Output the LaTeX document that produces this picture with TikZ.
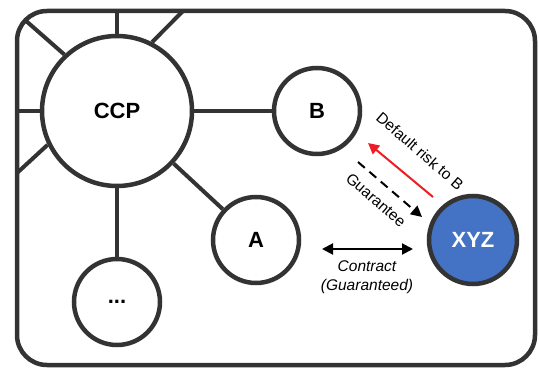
\documentclass[tikz,border=0pt]{standalone}
\usepackage{fontspec}
\setmainfont{Liberation Sans}
\usetikzlibrary{arrows.meta}
\definecolor{linegray}{HTML}{333333}
\definecolor{xyzblue}{HTML}{4472C4}
\definecolor{riskred}{HTML}{EE1C25}

\begin{document}
\begin{tikzpicture}[x=1pt, y=-1pt,
        party/.style = {circle, draw=linegray, line width=4.5pt, minimum size=86pt,
            inner sep=0pt, font=\fontsize{22}{26}\selectfont\bfseries},
        spoke/.style = {draw=linegray, line width=4pt},
        flow/.style = {line width=2pt, -{Triangle[length=11pt, width=11pt]}},
        lbl/.style = {font=\fontsize{15.5}{19}\selectfont, inner sep=0pt}]
        \useasboundingbox (0,0) rectangle (539,369);
        \draw[linegray, line width=4.5pt, rounded corners=30pt] (17,11) rectangle (535,365);
        \node[party, minimum size=150pt] (ccp) at (117,111) {CCP};
        \node[party] (b) at (317,111) {B};
        \node[party] (a) at (256,240) {A};
        \node[party] (etc) at (117,302) {...};
        \node[party, minimum size=88pt, fill=xyzblue, text=white] (xyz) at (473,240) {XYZ};
        \coordinate (topfree) at (117,11);
        \coordinate (topright) at (183,11);
        \coordinate (topleft) at (25,20);
        \coordinate (leftfree) at (17,111);
        \coordinate (lowleft) at (17,173);
        \draw[spoke] (ccp.north) -- (topfree);
        \draw[spoke] (ccp.63) -- (topright);
        \draw[spoke] (ccp.133) -- (topleft);
        \draw[spoke] (ccp.west) -- (leftfree);
        \draw[spoke] (ccp.206) -- (lowleft);
        \draw[spoke] (ccp) -- (b);
        \draw[spoke] (ccp) -- (a);
        \draw[spoke] (ccp) -- (etc);
        \coordinate (riskstart) at (433,197);
        \coordinate (riskend) at (368,143);
        \coordinate (guarstart) at (358,162);
        \coordinate (guarend) at (422,217);
        \coordinate (contleft) at (322,249);
        \coordinate (contright) at (413,249);
        \draw[flow, riskred] (riskstart) -- (riskend);
        \draw[flow, black, dash pattern=on 9pt off 6pt] (guarstart) -- (guarend);
        \draw[flow, black, {Triangle[length=11pt, width=11pt]}-{Triangle[length=11pt, width=11pt]}] (contleft) -- (contright);
        \node[lbl, rotate=-41] (risklabel) at (420,151) {Default risk to B};
        \node[lbl, rotate=-41] (guarlabel) at (376,200) {Guarantee};
        \node[lbl, align=center, font=\fontsize{15.5}{19}\selectfont\itshape] (contlabel) at (367,277) {Contract\\(Guaranteed)};
    \end{tikzpicture}
\end{document}
